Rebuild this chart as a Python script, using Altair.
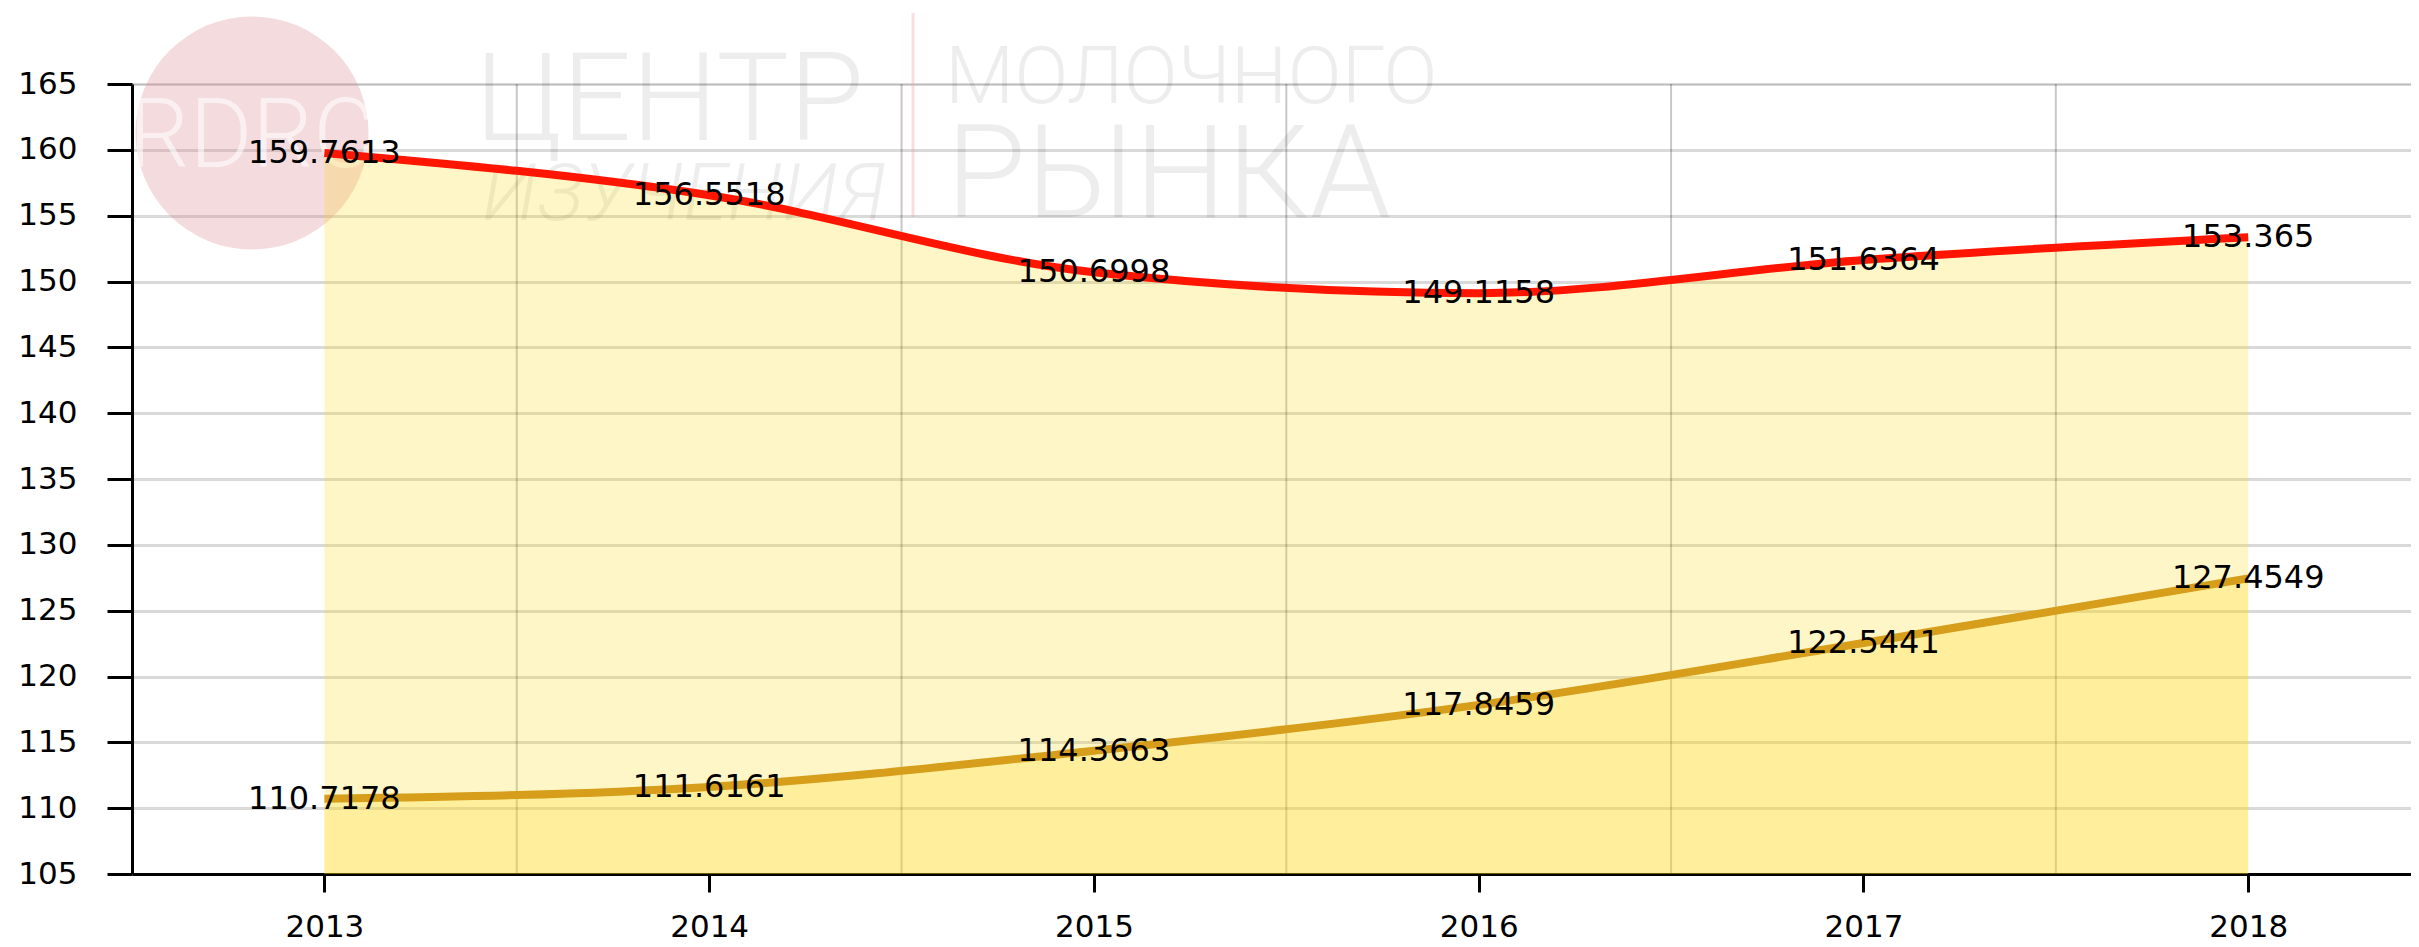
import altair as alt
import pandas as pd

years = [2013, 2014, 2015, 2016, 2017, 2018]
top_values = [159.7613, 156.5518, 150.6998, 149.1158, 151.6364, 153.365]
bottom_values = [110.7178, 111.6161, 114.3663, 117.8459, 122.5441, 127.4549]
top_labels = ["159.7613", "156.5518", "150.6998", "149.1158", "151.6364", "153.365"]
bottom_labels = ["110.7178", "111.6161", "114.3663", "117.8459", "122.5441", "127.4549"]
y_ticks = [105, 110, 115, 120, 125, 130, 135, 140, 145, 150, 155, 160, 165]
grid_mid_years = [2013.5, 2014.5, 2015.5, 2016.5, 2017.5]

FONT = "DejaVu Sans"

df_top = pd.DataFrame({"year": years, "value": top_values, "label": top_labels})
df_bot = pd.DataFrame({"year": years, "value": bottom_values, "label": bottom_labels})
df_grid = pd.DataFrame({"year": grid_mid_years})

x_axis = alt.Axis(values=years, format="d", grid=False, title=None,
                  domainColor="#000", domainWidth=3, tickColor="#000", tickWidth=3,
                  tickSize=18, labelFont=FONT, labelFontSize=31, labelColor="#000",
                  labelPadding=20)
y_axis = alt.Axis(values=y_ticks, grid=True, title=None, gridColor="#000",
                  gridOpacity=0.15, gridWidth=3,
                  domainColor="#000", domainWidth=3, tickColor="#000", tickWidth=3,
                  tickSize=25, labelFont=FONT, labelFontSize=31, labelColor="#000",
                  labelPadding=30)
x_scale = alt.Scale(domain=[2012.5, 2018.423], nice=False, zero=False)
y_scale = alt.Scale(domain=[105, 165], nice=False, zero=False)

X = alt.X("year:Q", scale=x_scale, axis=x_axis)
Y = alt.Y("value:Q", scale=y_scale, axis=y_axis)

# watermark (decoration)
wm_circle = alt.Chart(pd.DataFrame({"k": [0]})).mark_point(
    shape="circle", filled=True, color="#D98890", opacity=0.3, size=233 * 233
).encode(x=alt.value(120), y=alt.value(49))

wm_rdrc = alt.Chart(pd.DataFrame({"t": ["RDRC"]})).mark_text(
    font="Roboto", fontWeight=300, fontSize=96, color="#FFFFFF", opacity=0.6,
    align="center", baseline="middle"
).encode(x=alt.value(120), y=alt.value(54), text="t:N")

wm_texts = []
for txt, xx, yy, fs, style in [
    ("ЦЕНТР", 343, 56, 122, "normal"),
    ("ИЗУЧЕНИЯ", 350, 136, 80, "italic"),
    ("МОЛОЧНОГО", 813, 19, 80, "normal"),
    ("РЫНКА", 814, 133, 130, "normal"),
]:
    wm_texts.append(
        alt.Chart(pd.DataFrame({"t": [txt]})).mark_text(
            font="Roboto", fontWeight=300, fontSize=fs, fontStyle=style,
            color="#000", opacity=0.065, align="left", baseline="alphabetic"
        ).encode(x=alt.value(xx), y=alt.value(yy), text="t:N")
    )

wm_bar = alt.Chart(pd.DataFrame({"k": [0]})).mark_rule(
    color="#E8A0A8", opacity=0.35, strokeWidth=3
).encode(x=alt.value(781), y=alt.value(-71), y2=alt.value(133))

vgrid = alt.Chart(df_grid).mark_rule(color="#000", opacity=0.22, strokeWidth=2).encode(
    x=X, y=alt.datum(165, type="quantitative", scale=y_scale, axis=y_axis),
    y2=alt.datum(105)
)

area_top = alt.Chart(df_top).mark_area(
    interpolate="monotone", color="#FFD916", opacity=0.24
).encode(x=X, y=Y, y2=alt.datum(105))
area_bot = alt.Chart(df_bot).mark_area(
    interpolate="monotone", color="#FFD916", opacity=0.24
).encode(x=X, y=Y, y2=alt.datum(105))

line_top = alt.Chart(df_top).mark_line(
    interpolate="monotone", color="#FF1500", strokeWidth=8
).encode(x=X, y=Y)
line_bot = alt.Chart(df_bot).mark_line(
    interpolate="monotone", color="#D69E1A", strokeWidth=8
).encode(x=X, y=Y)

text_top = alt.Chart(df_top).mark_text(
    font=FONT, fontSize=32, color="#000", align="center", baseline="middle"
).encode(x=X, y=Y, text="label:N")
text_bot = alt.Chart(df_bot).mark_text(
    font=FONT, fontSize=32, color="#000", align="center", baseline="middle"
).encode(x=X, y=Y, text="label:N")

chart = alt.layer(
    wm_circle, wm_rdrc, *wm_texts, wm_bar, vgrid,
    area_top, area_bot, line_top, line_bot, text_top, text_bot
).properties(
    width=2279, height=790,
    padding={"left": 124, "top": 76, "right": 0, "bottom": 73},
    autosize=alt.AutoSizeParams(type="none"),
).configure_view(stroke=None).configure(background="#FFFFFF")

chart.save("out.html", embed_options={"renderer": "svg", "actions": False})
